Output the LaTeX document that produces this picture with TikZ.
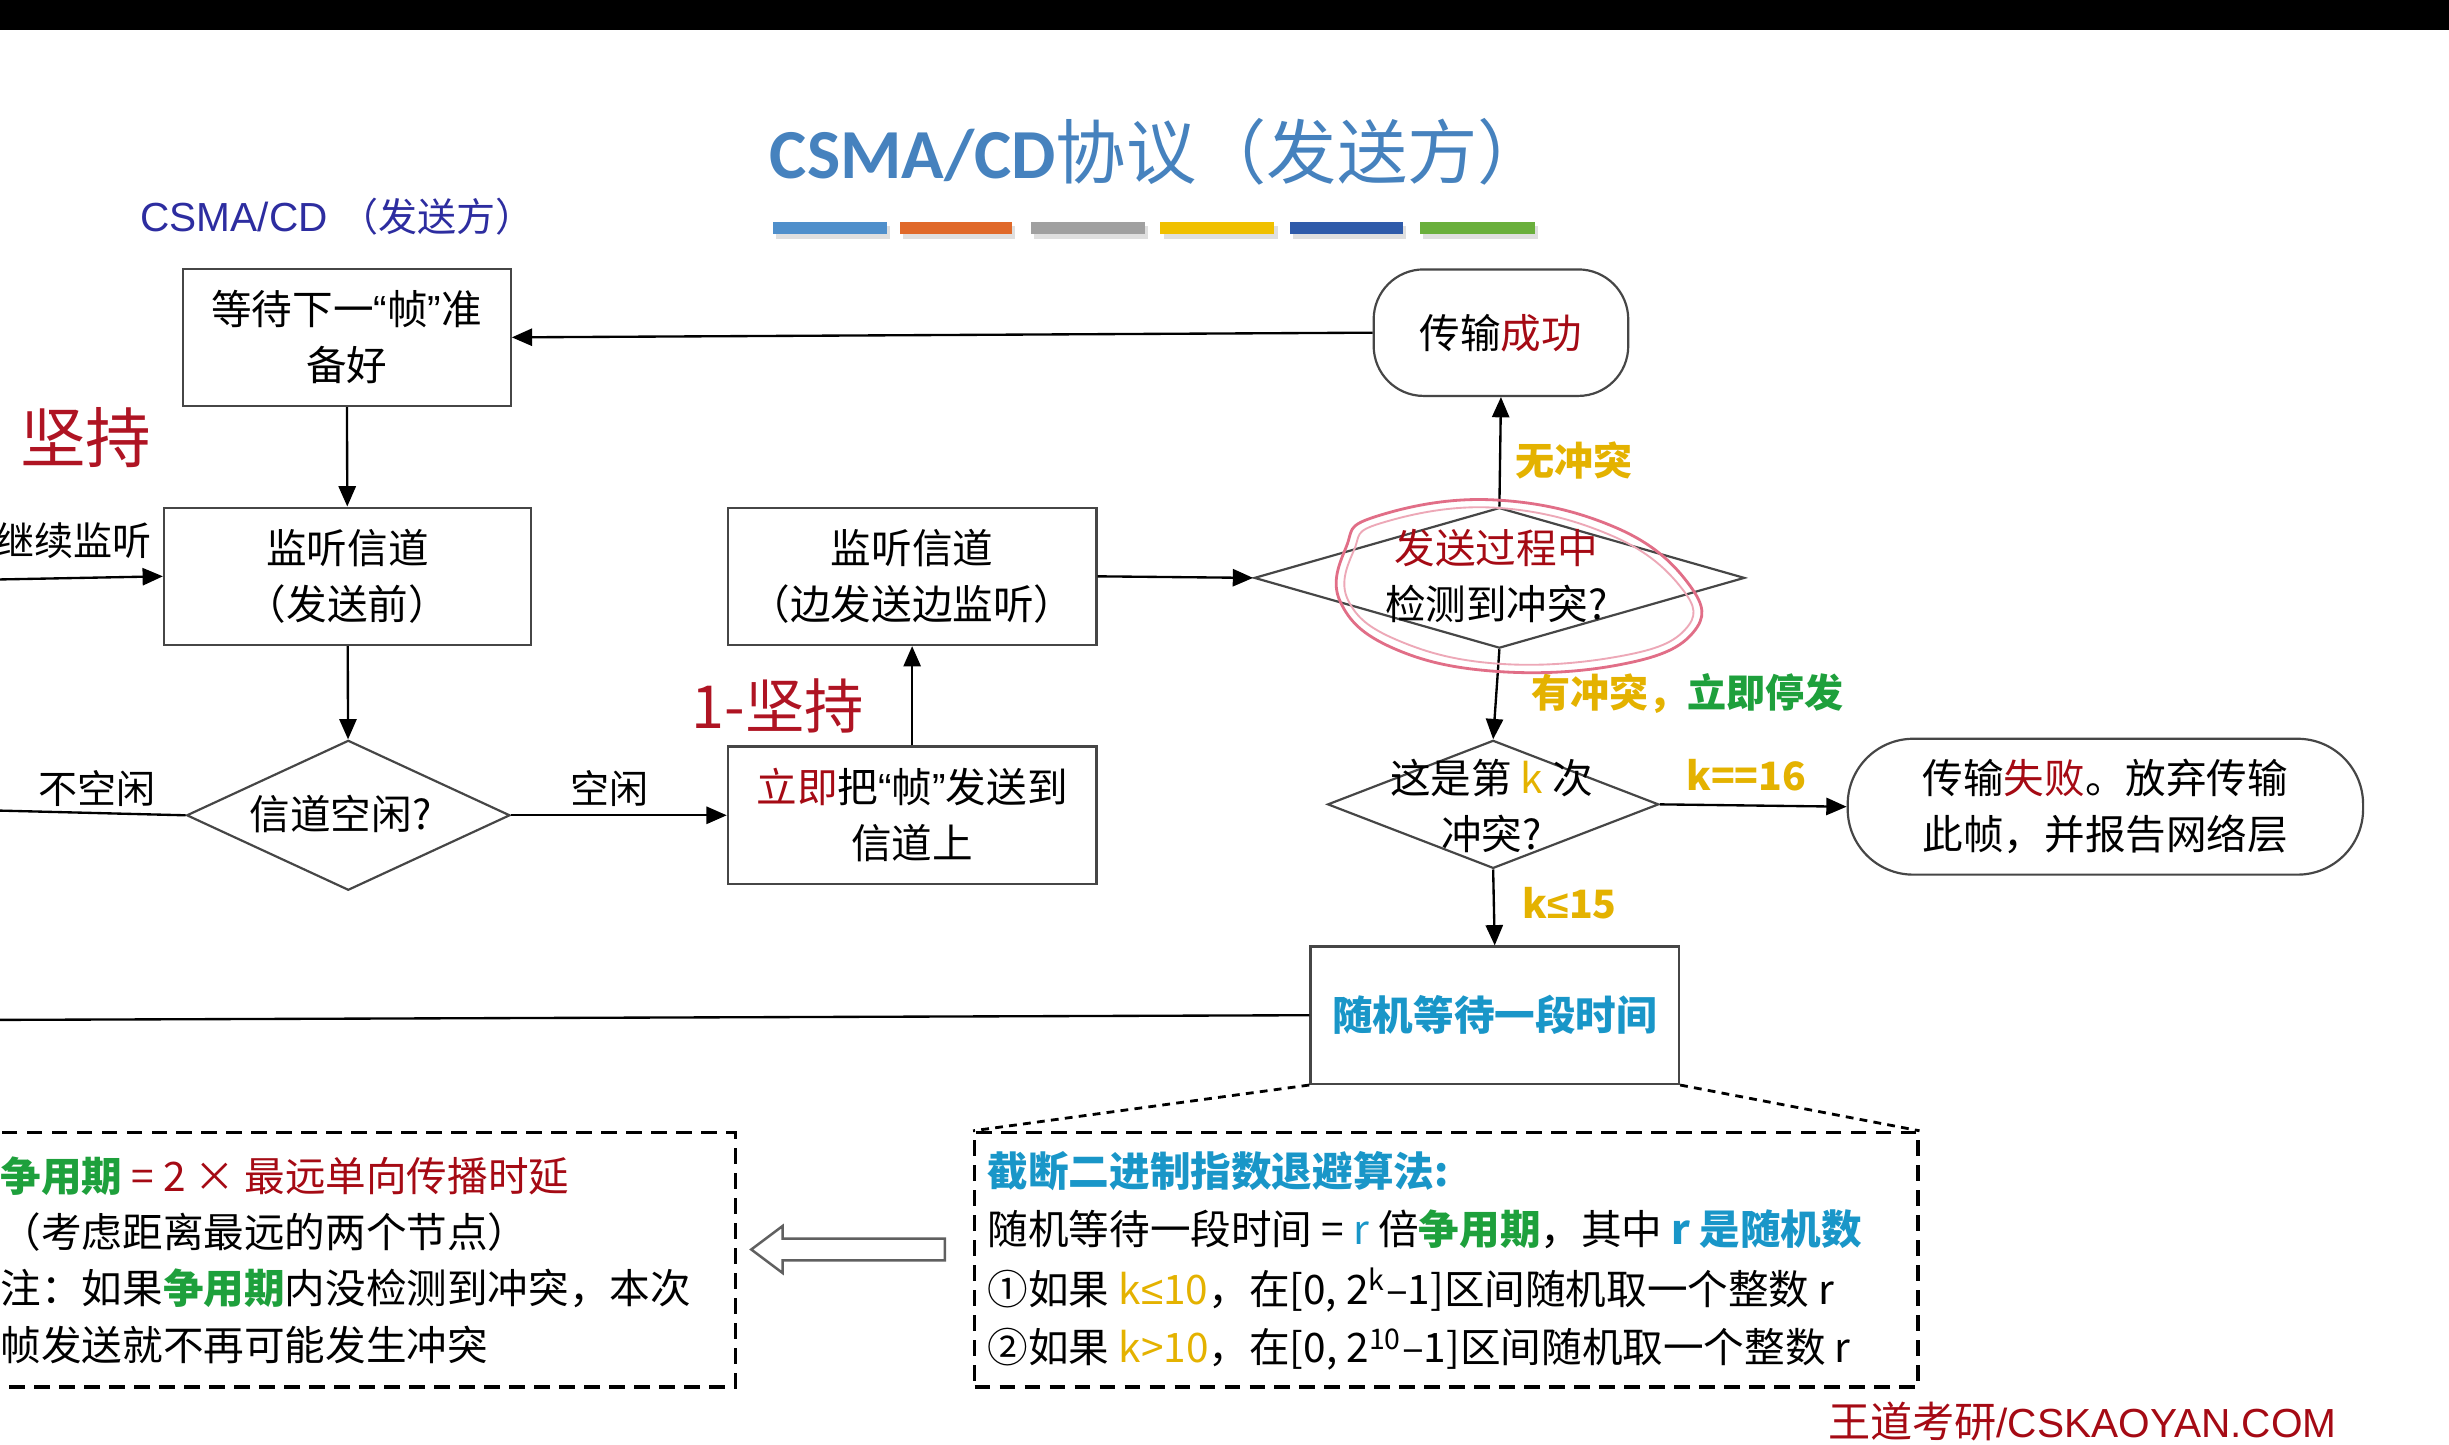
\documentclass[tikz,border=0pt]{standalone}
\usepackage{fontspec}
\setmainfont{Noto Sans CJK SC}
\newfontfamily\calib{Carlito}
\newfontfamily\arialf{Liberation Sans}
\usetikzlibrary{shapes.geometric,arrows.meta}
\definecolor{gold}{RGB}{228,178,0}
\definecolor{grn}{RGB}{30,160,60}
\definecolor{dred}{RGB}{165,10,20}
\definecolor{cyn}{RGB}{25,150,200}
\definecolor{ttl}{RGB}{70,130,190}
\definecolor{edge}{RGB}{70,70,70}
\definecolor{hand}{RGB}{175,20,35}
\definecolor{pinkc}{RGB}{225,110,135}
\definecolor{subblue}{RGB}{45,45,160}
\definecolor{barA}{RGB}{79,143,203}
\definecolor{barB}{RGB}{224,105,42}
\definecolor{barC}{RGB}{160,160,160}
\definecolor{barD}{RGB}{240,192,0}
\definecolor{barE}{RGB}{47,91,170}
\definecolor{barF}{RGB}{106,175,60}
\newcommand\bx{\fontsize{13}{18}\selectfont}
\newcommand\lb{\fontsize{12.5}{15}\selectfont}
\newcommand\myoq{{\arialf “}}
\newcommand\mycq{{\arialf ”}}
\newcommand\leqs{{\arialf ≤}}
\begin{document}
\begin{tikzpicture}[x=0.5pt,y=-0.5pt,
  box/.style={draw=edge, line width=0.7pt, fill=white, inner sep=0pt, align=center, font=\bx},
  term/.style={box, rounded corners=16pt},
  dia/.style={diamond, draw=edge, line width=0.7pt, inner sep=0pt},
  dtext/.style={font=\bx, align=center, inner sep=0pt},
  conn/.style={line width=0.75pt, -{Triangle[length=6.5pt,width=5.5pt]}},
  plain/.style={line width=0.75pt},
  lbl/.style={font=\lb, inner sep=0pt},
  clbl/.style={font=\lb\bfseries, inner sep=0pt, text=gold},
  dbox/.style={draw=black, line width=1pt, dash pattern=on 5pt off 3pt, inner sep=0pt},
  txt/.style={font=\bx, anchor=west, inner sep=0pt},
  handw/.style={text=hand, inner sep=0pt}
]
\useasboundingbox (0,0) rectangle (1568,925);
\clip (0,0) rectangle (1568,925);
\fill[white] (0,0) rectangle (1568,925);
\fill[black] (0,0) rectangle (1568,19);

% title
\node[text=ttl, inner sep=0pt] (title) at (742,97) {{\calib\bfseries\fontsize{22.5}{26}\selectfont CSMA/CD}{\fontsize{22.5}{26}\selectfont 协议（发送方）}};
\foreach \a/\b/\c in {495/568/barA, 576/648/barB, 660/733/barC, 743/816/barD, 826/898/barE, 909/983/barF}{
  \fill[gray!25] (\a+2,145) rectangle (\b+2,153);
  \fill[\c] (\a,142) rectangle (\b,150);
}
\node[text=subblue, inner sep=0pt] (sub) at (216,139) {{\arialf\fontsize{13}{15}\selectfont CSMA/CD }{\fontsize{12.5}{15}\selectfont （发送方）}};

% nodes
\node[box, minimum width=105pt, minimum height=44pt] (wait) at (222,216) {等待下一\myoq 帧\mycq 准\\备好};
\node[term, minimum width=81.5pt, minimum height=40.5pt] (succ) at (961,213) {传输\textcolor{dred}{成功}};
\node[box, minimum width=117.5pt, minimum height=44pt] (lis1) at (222.5,369) {监听信道\\（发送前）};
\node[box, minimum width=118pt, minimum height=44pt] (lis2) at (584,369) {监听信道\\（边发送边监听）};
\node[dia, minimum width=157pt, minimum height=45pt] (det) at (960,370) {};
\node[dtext] (dett) at (958,369) {\textcolor{dred}{发送过程中}\\检测到冲突?};
\node[dia, minimum width=103.5pt, minimum height=48pt] (idle) at (223,522) {};
\node[dtext] (idlet) at (218,521) {信道空闲?};
\node[box, minimum width=118pt, minimum height=44pt] (send) at (584,522) {\textcolor{dred}{立即}把\myoq 帧\mycq 发送到\\信道上};
\node[dia, minimum width=106pt, minimum height=41pt] (kth) at (956,515) {};
\node[dtext] (ktht) at (955,516) {这是第 \textcolor{gold}{k} 次\\冲突?};
\node[term, rounded corners=21pt, minimum width=165pt, minimum height=43.5pt] (fail) at (1348,516.5) {传输\textcolor{dred}{失败}。放弃传输\\此帧，并报告网络层};
\node[box, minimum width=118pt, minimum height=44pt, font=\bx\bfseries, text=cyn] (rand) at (957,650) {随机等待一段时间};

\coordinate (inL) at (0,371);
\coordinate (busyL) at (0,519);
\coordinate (randL) at (0,653);

% connectors
\draw[conn] (succ.west) -- (wait.east);
\draw[conn] (wait) -- (lis1);
\draw[conn] (inL) -- (lis1.west);
\draw[conn] (lis1) -- (idle);
\draw[plain] (idle.west) -- (busyL);
\draw[conn] (idle.east) -- (send.west);
\draw[conn] (send) -- (lis2);
\draw[conn] (lis2.east) -- (det.west);
\draw[conn] (det.north) -- (succ.south);
\draw[conn] (det.south) -- (kth.north);
\draw[conn] (kth.east) -- (fail.west);
\draw[conn] (kth.south) -- (rand.north);
\draw[plain] (rand.west) -- (randL);

% labels
\node[lbl] (l1) at (47,346) {继续监听};
\node[lbl] (l2) at (62,505) {不空闲};
\node[lbl] (l3) at (390,505) {空闲};
\node[clbl] (l4) at (1008,295) {无冲突};
\node[clbl, anchor=west] (l5) at (980,444) {有冲突，\textcolor{grn}{立即停发}};
\node[clbl] (l6) at (1118,496) {k==16};
\node[clbl] (l7) at (1005,578) {k\leqs 15};

% dashed boxes
\node[dbox, minimum width=302pt, minimum height=81.5pt] (algo) at (926,806.5) {};
\node[dbox, minimum width=240.5pt, minimum height=81.5pt] (note) at (230.5,806.5) {};
\draw[line width=0.9pt, dash pattern=on 2.5pt off 2pt] (rand.south west) -- (algo.north west);
\draw[line width=0.9pt, dash pattern=on 2.5pt off 2pt] (rand.south east) -- (algo.north east);

\node[txt, font=\bx\bfseries, text=cyn] (a1) at (632,750) {截断二进制指数退避算法:};
\node[txt] (a2) at (632,787) {随机等待一段时间 = \textcolor{cyn}{r} 倍\textcolor{grn}{\bfseries 争用期}，其中 \textcolor{cyn}{\bfseries r 是随机数}};
\node[txt] (a3) at (632,826) {①如果 \textcolor{gold}{k\leqs 10}，在[0, 2\textsuperscript{k}–1]区间随机取一个整数 r};
\node[txt] (a4) at (632,864) {②如果 \textcolor{gold}{k>10}，在[0, 2\textsuperscript{10}–1]区间随机取一个整数 r};

\node[txt] (n1) at (0,753) {\textcolor{grn}{\bfseries 争用期} \textcolor{dred}{= 2 × 最远单向传播时延}};
\node[txt] (n2) at (0,789) {（考虑距离最远的两个节点）};
\node[txt] (n3) at (0,825) {注：如果\textcolor{grn}{\bfseries 争用期}内没检测到冲突，本次};
\node[txt] (n4) at (0,861) {帧发送就不再可能发生冲突};

% hollow arrow
\draw[fill=white, draw=gray!75!black, line width=0.8pt] (605,793) -- (501,793) -- (501,785) -- (481,800) -- (501,815) -- (501,807) -- (605,807) -- cycle;

% handwritten annotations
\draw[pinkc, line width=0.9pt] plot[smooth cycle, tension=0.7] coordinates {(880,331) (955,320) (1035,338) (1082,375) (1084,405) (1040,425) (960,430) (892,415) (858,385) (862,350)};
\draw[pinkc!60, line width=0.6pt] plot[smooth cycle, tension=0.7] coordinates {(884,335) (956,325) (1032,343) (1077,377) (1079,403) (1038,420) (960,425) (895,410) (863,384) (867,352)};
\node[handw, font=\fontsize{21}{21}\selectfont\itshape] (h1) at (55,280) {坚持};
\node[handw, font=\fontsize{19}{19}\selectfont\itshape] (h3) at (498,452) {1-坚持};

% footer
\node[text=dred, inner sep=0pt, anchor=west] (foot) at (1170,910) {{\fontsize{13.5}{15}\selectfont 王道考研}{\arialf\fontsize{13}{15}\selectfont /CSKAOYAN.COM}};
\end{tikzpicture}
\end{document}
